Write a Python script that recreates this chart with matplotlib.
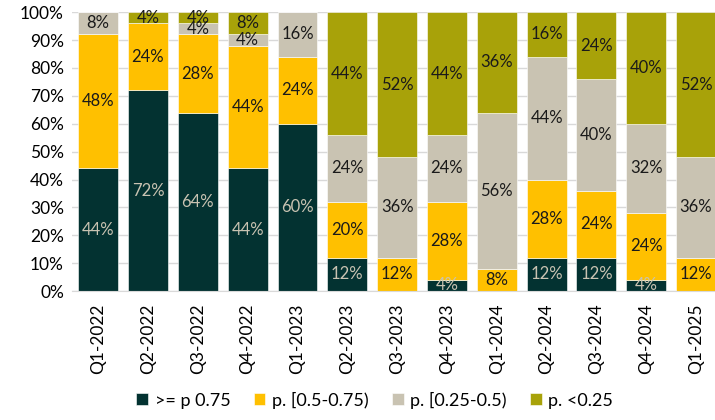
import matplotlib
matplotlib.use("Agg")
from matplotlib import pyplot as plt
from matplotlib.ticker import PercentFormatter

quarters = ["Q1-2022", "Q2-2022", "Q3-2022", "Q4-2022", "Q1-2023", "Q2-2023",
            "Q3-2023", "Q4-2023", "Q1-2024", "Q2-2024", "Q3-2024", "Q4-2024",
            "Q1-2025"]

p_high = [44, 72, 64, 44, 60, 12, 0, 4, 0, 12, 12, 4, 0]
p_mid_high = [48, 24, 28, 44, 24, 20, 12, 28, 8, 28, 24, 24, 12]
p_mid_low = [8, 0, 4, 4, 16, 24, 36, 24, 56, 44, 40, 32, 36]
p_low = [0, 4, 4, 8, 0, 44, 52, 44, 36, 16, 24, 40, 52]

series_names = [">= p 0.75", "p. [0.5-0.75)", "p. [0.25-0.5)", "p. <0.25"]

colors = ["#033231", "#FFC000", "#C9C3B2", "#A8A209"]
text_colors = ["#C9C3B2", "#1a1a1a", "#1a1a1a", "#1a1a1a"]

plt.rcParams["font.family"] = ["Lato", "DejaVu Sans"]

fig = plt.figure(figsize=(7.15, 4.2), dpi=100)
ax = fig.add_axes([0.101, 0.307, 0.899, 0.664])

x = list(range(len(quarters)))
bottom = [0] * len(quarters)
for vals, name, c, tc in zip([p_high, p_mid_high, p_mid_low, p_low],
                             series_names, colors, text_colors):
    bars = ax.bar(x, vals, bottom=bottom, width=0.8, color=c, label=name,
                  edgecolor="white", linewidth=0.4, zorder=2)
    for i, v in enumerate(vals):
        if v > 0:
            ax.text(i, bottom[i] + v / 2, "{}%".format(v), ha="center",
                    va="center", fontsize=12, color=tc, zorder=3)
    bottom = [b + v for b, v in zip(bottom, vals)]

ax.set_xlim(-0.52, len(quarters) - 0.62)
ax.set_ylim(0, 100)
ax.set_yticks(range(0, 101, 10))
ax.yaxis.set_major_formatter(PercentFormatter(decimals=0))
ax.set_xticks(x)
ax.set_xticklabels(quarters, rotation=90, fontsize=12.5)
ax.tick_params(axis="y", labelsize=12.5, length=0, pad=6)
ax.tick_params(axis="x", length=0, pad=9)
ax.grid(axis="y", color="#d9d9d9", linewidth=1, zorder=0)
for s in ["top", "right", "left"]:
    ax.spines[s].set_visible(False)
ax.spines["bottom"].set_color("#d9d9d9")

fig.legend(loc="lower center", ncol=4, frameon=False, fontsize=13,
           bbox_to_anchor=(0.524, -0.012), handlelength=0.65, handleheight=0.65,
           columnspacing=1.3, handletextpad=0.35)

fig.savefig("out.png", dpi=100)
